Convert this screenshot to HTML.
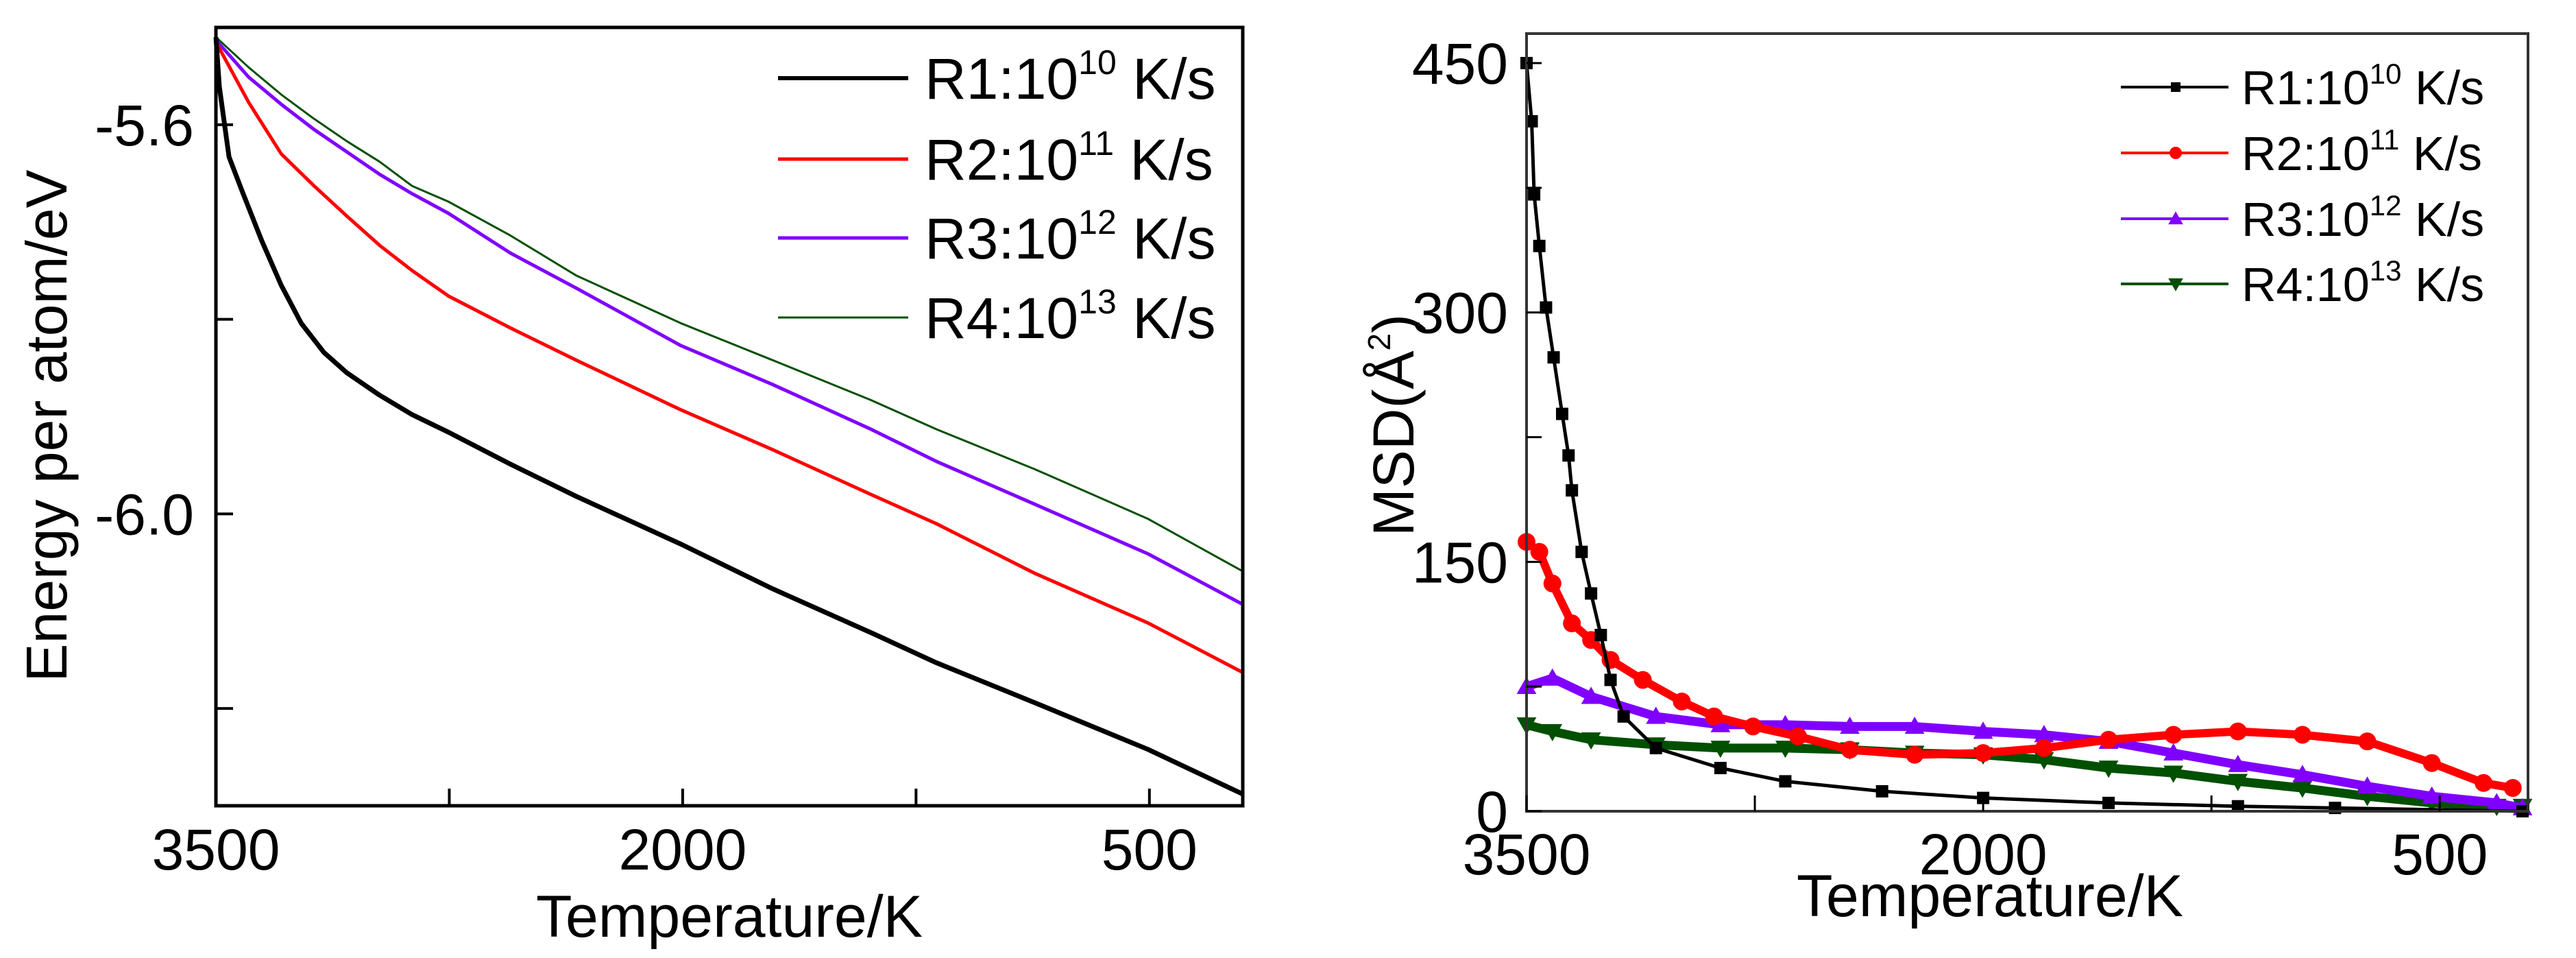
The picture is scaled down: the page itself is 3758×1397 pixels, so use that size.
<!DOCTYPE html>
<html><head><meta charset="utf-8"><style>
html,body{margin:0;padding:0;background:#fff}
svg{display:block}
text{font-family:"Liberation Sans",Arial,sans-serif;fill:#000}
</style></head><body>
<svg id="fig" width="3758" height="1397" viewBox="0 0 3758 1397" xmlns="http://www.w3.org/2000/svg">
<rect width="3758" height="1397" fill="#fff"/>
<g id="left"></g>
<g id="right"></g>
</svg>
<script>
// ---- Left chart data (Energy per atom vs Temperature) ----
const tempsR1 = [3500,3489,3458,3416,3353,3290,3226,3153,3079,2974,2869,2753,2553,2342,2006,1711,1395,1185,869,505,200];
const energyR1 = [-5.51,-5.561,-5.633,-5.668,-5.719,-5.765,-5.804,-5.834,-5.855,-5.878,-5.898,-5.916,-5.949,-5.982,-6.031,-6.077,-6.122,-6.153,-6.194,-6.242,-6.288];
const tempsOther = [3500,3395,3290,3184,3079,2974,2869,2753,2553,2342,2006,1711,1395,1185,869,505,200];
const energyR2 = [-5.515,-5.577,-5.630,-5.663,-5.694,-5.724,-5.750,-5.776,-5.809,-5.842,-5.893,-5.934,-5.980,-6.010,-6.061,-6.112,-6.163];
const energyR3 = [-5.513,-5.551,-5.579,-5.605,-5.628,-5.651,-5.671,-5.691,-5.732,-5.768,-5.827,-5.867,-5.913,-5.946,-5.990,-6.041,-6.093];
const energyR4 = [-5.510,-5.541,-5.569,-5.594,-5.617,-5.638,-5.663,-5.679,-5.714,-5.755,-5.804,-5.842,-5.883,-5.913,-5.954,-6.005,-6.059];
const leftXTicks = [3500,2000,500];
const leftXMinor = [2750,1250];
const leftYTicks = [-5.6,-6.0];
const leftYMinor = [-5.8,-6.2];
// ---- Right chart data (MSD vs Temperature) ----
const msdT1 = [3500,3483,3475,3458,3436,3411,3383,3362,3351,3319,3288,3256,3224,3181,3075,2863,2650,2332,2000,1588,1163,844,228];
const msdR1 = [450,415,371,340,303,273,239,214,193,156,131,106,79,57,38,26,18,12,8,5,3,2,0];
const msdT2 = [3500,3458,3415,3351,3288,3224,3118,2990,2884,2756,2608,2438,2225,2000,1800,1588,1375,1163,951,738,526,356,260];
const msdR2 = [162,156,137,113,103,91,79,66,57,51,45,37,34,35,38,43,46,48,46,42,29,17,14];
const msdT3 = [3500,3415,3288,3075,2863,2650,2438,2225,2000,1800,1588,1375,1163,951,738,526,313,228];
const msdR3 = [75,80,69,57,52,52,51,51,48,46,42,35,28,22,15,9,5,2];
const msdR4 = [52,48,43,40,38,38,37,35,34,31,26,23,18,14,9,5,3,3];
const rightXTicks = [3500,2000,500];
const rightXMinor = [2750,1250];
const rightYTicks = [0,150,300,450];
const rightYMinor = [75,225,375];

const NS = "http://www.w3.org/2000/svg";
function mk(parent, tag, attrs){
  const el = document.createElementNS(NS, tag);
  for (const k in attrs) el.setAttribute(k, attrs[k]);
  parent.appendChild(el);
  return el;
}
const L = document.getElementById('left');
const R = document.getElementById('right');

const xL = t => 315 + (3500 - t) * (1813 - 315) / 3300;
const yL = e => 40 + (-5.5 - e) * (1175 - 40) / 0.8;
const xR = t => 2227 + (3500 - t) * (3688 - 2227) / 3290;
const yR = v => 1183 - v / 450 * (1183 - 92);

function pathD(ts, vs, fx, fy){
  return ts.map((t,i)=>(i?'L':'M')+fx(t).toFixed(1)+','+fy(vs[i]).toFixed(1)).join(' ');
}

// ---------- LEFT ----------
const leftSeries = [
  {t:tempsR1, v:energyR1, c:'#000', w:7, n:'line-r1'},
  {t:tempsOther, v:energyR2, c:'#ff0000', w:5, n:'line-r2'},
  {t:tempsOther, v:energyR3, c:'#8000ff', w:5, n:'line-r3'},
  {t:tempsOther, v:energyR4, c:'#005000', w:3, n:'line-r4'}
];
leftSeries.slice().reverse().forEach(s=>{
  const p = mk(L,'path',{d:pathD(s.t,s.v,xL,yL),fill:'none',stroke:s.c,'stroke-width':s.w,'stroke-linejoin':'round'});
  
  
});
const lf = mk(L,'rect',{x:315,y:40,width:1498,height:1135,fill:'none',stroke:'#000','stroke-width':5});


leftXTicks.concat(leftXMinor).forEach(t=>{
  const tk = mk(L,'line',{x1:xL(t),x2:xL(t),y1:1175,y2:1150,stroke:'#000','stroke-width':4});
  
  
});
leftXTicks.forEach(t=>{
  const tx = mk(L,'text',{x:xL(t),y:1268,'font-size':84,'text-anchor':'middle'});
  tx.textContent = t;
  
  
});
leftYTicks.concat(leftYMinor).forEach(e=>{
  const tk = mk(L,'line',{x1:315,x2:340,y1:yL(e),y2:yL(e),stroke:'#000','stroke-width':4});
  
  
});
leftYTicks.forEach(e=>{
  const tx = mk(L,'text',{x:283,y:yL(e)+30,'font-size':84,'text-anchor':'end'});
  tx.textContent = e.toFixed(1);
  
  
});
const lxt = mk(L,'text',{x:1064,y:1366,'font-size':86,'text-anchor':'middle'});
lxt.textContent='Temperature/K';


const lyt = mk(L,'text',{x:0,y:0,'font-size':84,'text-anchor':'middle',transform:'translate(97,621) rotate(-90)'});
lyt.textContent='Energy per atom/eV';



const legL = [['R1:10','10','#000',6],['R2:10','11','#ff0000',5],['R3:10','12','#8000ff',5],['R4:10','13','#005000',3]];
const legLY = [114,232,347,463];
legL.forEach((d,i)=>{
  const g = mk(L,'g',{});
  
  
  mk(g,'line',{x1:1135,x2:1325,y1:legLY[i],y2:legLY[i],stroke:d[2],'stroke-width':d[3]});
  const t = mk(g,'text',{x:1349,y:legLY[i]+30,'font-size':84});
  t.innerHTML = d[0]+'<tspan dy="-36" font-size="50">'+d[1]+'</tspan><tspan dy="36"> K/s</tspan>';
});

// ---------- RIGHT ----------
const rightSeries = [
  {t:msdT1, v:msdR1, c:'#000', w:5, m:'sq', n:'series-r1'},
  {t:msdT2, v:msdR2, c:'#ff0000', w:12, m:'ci', n:'series-r2'},
  {t:msdT3, v:msdR3, c:'#8000ff', w:13, m:'tu', n:'series-r3'},
  {t:msdT3, v:msdR4, c:'#005000', w:13, m:'td', n:'series-r4'}
];
function marker(g, type, x, y, c, s){
  if (type==='sq') return mk(g,'rect',{x:x-s/2,y:y-s/2,width:s,height:s,fill:c});
  if (type==='ci') return mk(g,'circle',{cx:x,cy:y,r:s/2,fill:c});
  if (type==='tu') return mk(g,'polygon',{points:`${x},${y-s*0.6} ${x-s*0.6},${y+s*0.45} ${x+s*0.6},${y+s*0.45}`,fill:c});
  return mk(g,'polygon',{points:`${x},${y+s*0.6} ${x-s*0.6},${y-s*0.45} ${x+s*0.6},${y-s*0.45}`,fill:c});
}
const msizes = {sq:18, ci:26, tu:24, td:24};
[rightSeries[3],rightSeries[2],rightSeries[1],rightSeries[0]].forEach(s=>{
  const g = mk(R,'g',{});
  
  
  mk(g,'path',{d:pathD(s.t,s.v,xR,yR),fill:'none',stroke:s.c,'stroke-width':s.w,'stroke-linejoin':'round'});
  s.t.forEach((t,i)=>{
    const m = marker(g, s.m, xR(t), yR(s.v[i]), s.c, msizes[s.m]);
    
    
  });
});
const rf = mk(R,'rect',{x:2227,y:49,width:1461,height:1134,fill:'none',stroke:'#333','stroke-width':4});


rightXTicks.concat(rightXMinor).forEach(t=>{
  const tk = mk(R,'line',{x1:xR(t),x2:xR(t),y1:1183,y2:1160,stroke:'#000','stroke-width':3});
  
  
});
rightXTicks.forEach(t=>{
  const tx = mk(R,'text',{x:xR(t),y:1275,'font-size':84,'text-anchor':'middle'});
  tx.textContent=t;
  
  
});
rightYTicks.concat(rightYMinor).forEach(v=>{
  const tk = mk(R,'line',{x1:2227,x2:2249,y1:yR(v),y2:yR(v),stroke:'#000','stroke-width':3});
  
  
});
rightYTicks.forEach(v=>{
  const tx = mk(R,'text',{x:2200,y:yR(v)+30,'font-size':84,'text-anchor':'end'});
  tx.textContent=v;
  
  
});
const rxt = mk(R,'text',{x:2903,y:1336,'font-size':86,'text-anchor':'middle'});
rxt.textContent='Temperature/K';


const ryt = mk(R,'text',{x:0,y:0,'font-size':84,'text-anchor':'middle',transform:'translate(2062,620) rotate(-90)'});
ryt.innerHTML='MSD(Å<tspan dy="-34" font-size="46">2</tspan><tspan dy="34">)</tspan>';



const legR = [['R1:10','10','#000','sq',4],['R2:10','11','#ff0000','ci',4],['R3:10','12','#8000ff','tu',4],['R4:10','13','#005000','td',4]];
const legRY = [127,223,319,414];
legR.forEach((d,i)=>{
  const g = mk(R,'g',{});
  
  
  mk(g,'line',{x1:3094,x2:3251,y1:legRY[i],y2:legRY[i],stroke:d[2],'stroke-width':d[4]});
  marker(g, d[3], 3174, legRY[i], d[2], d[3]==='sq'?14:18);
  const t = mk(g,'text',{x:3270,y:legRY[i]+25,'font-size':70});
  t.innerHTML = d[0]+'<tspan dy="-30" font-size="42">'+d[1]+'</tspan><tspan dy="30"> K/s</tspan>';
});
</script>
</body></html>
